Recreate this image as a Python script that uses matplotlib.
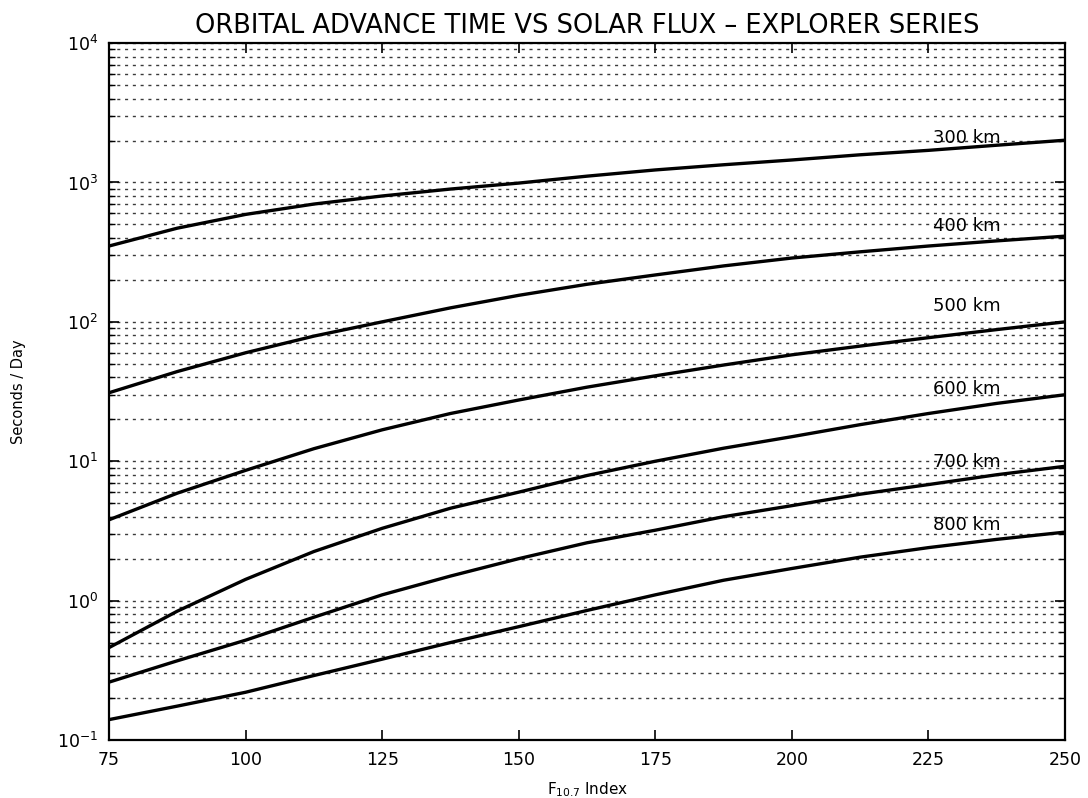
import matplotlib
matplotlib.use("Agg")
import matplotlib.pyplot as plt
import numpy as np
from matplotlib.ticker import LogLocator, NullFormatter, MultipleLocator

# F10.7 solar flux index values where the curves were sampled
flux = [75, 87.5, 100, 112.5, 125, 137.5, 150, 162.5,
        175, 187.5, 200, 212.5, 225, 237.5, 250]

# Orbital advance time (seconds / day) for each altitude
adv_300 = [350, 470, 590, 700, 800, 897, 990, 1110,
           1230, 1340, 1450, 1580, 1700, 1850, 2010]
adv_400 = [31, 44, 60, 79, 100, 126, 155, 186,
           217, 252, 287, 318, 350, 381, 412]
adv_500 = [3.8, 5.9, 8.6, 12.3, 16.8, 22, 27.5, 34,
           41, 49, 58, 67, 77, 88, 100]
adv_600 = [0.46, 0.84, 1.42, 2.25, 3.3, 4.6, 6.0, 7.9,
           10.0, 12.4, 15.0, 18.3, 22.0, 26.0, 30.0]
adv_700 = [0.26, 0.37, 0.52, 0.76, 1.1, 1.5, 2.0, 2.6,
           3.2, 4.0, 4.8, 5.8, 6.8, 8.0, 9.2]
adv_800 = [0.14, 0.175, 0.22, 0.29, 0.38, 0.5, 0.65, 0.85,
           1.1, 1.4, 1.7, 2.05, 2.4, 2.75, 3.1]

altitudes = ["300 km", "400 km", "500 km", "600 km", "700 km", "800 km"]
series = [adv_300, adv_400, adv_500, adv_600, adv_700, adv_800]

# where each altitude label sits, just above its curve
label_x = 232
label_y = [2080, 486, 130, 33, 9.9, 3.5]

fig = plt.figure(figsize=(10.88, 7.98), dpi=100)
ax = fig.add_axes([0.1002, 0.0727, 0.8787, 0.8733])

ax.set_yscale("log")
ax.set_xlim(75, 250)
ax.set_ylim(0.1, 1e4)

# dotted grid at every major and minor decade step
grid_vals = []
for dec in range(-1, 4):
    for m in range(1, 10):
        grid_vals.append(m * 10.0 ** dec)
grid_vals.append(1e4)
for g in grid_vals:
    ax.axhline(g, color="#3a3a3a", lw=1.0, ls=(0, (2.2, 3.4)), zorder=1)

for vals in series:
    ax.plot(flux, vals, color="black", lw=2.4, zorder=3,
            solid_joinstyle="round")

for name, ly in zip(altitudes, label_y):
    ax.text(label_x, ly, name, ha="center", va="center", fontsize=13,
            color="black", zorder=4)

ax.xaxis.set_major_locator(MultipleLocator(25))
ax.yaxis.set_major_locator(LogLocator(base=10, numticks=10))
ax.yaxis.set_minor_locator(LogLocator(base=10, subs=np.arange(2, 10), numticks=20))
ax.yaxis.set_minor_formatter(NullFormatter())

ax.tick_params(which="both", direction="in", top=True, right=True)
ax.tick_params(which="major", length=7, width=1.2, labelsize=12.5, pad=8)
ax.tick_params(which="minor", length=4, width=1.0)
for s in ax.spines.values():
    s.set_linewidth(1.6)

ax.set_title("ORBITAL ADVANCE TIME VS SOLAR FLUX \u2013 EXPLORER SERIES",
             fontsize=18.5, pad=7)
ax.set_ylabel("Seconds / Day", fontsize=10.5, labelpad=22)
ax.set_xlabel(r"F$_{10.7}$ Index", fontsize=11, labelpad=8)

fig.savefig("out.png", dpi=100)
